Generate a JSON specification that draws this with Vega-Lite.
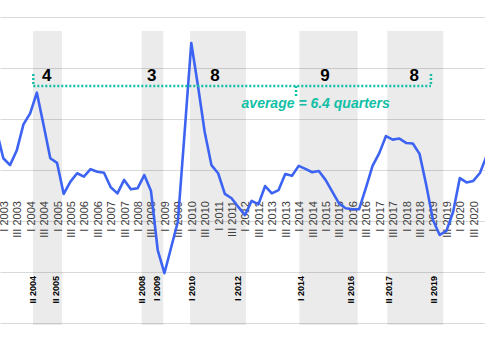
{
  "$schema": "https://vega.github.io/schema/vega-lite/v6.json",
  "width": 485,
  "height": 360,
  "padding": 0,
  "autosize": {"type": "none"},
  "background": "white",
  "config": {
    "view": {"stroke": null},
    "font": "Liberation Sans",
    "axisX": {"labels": false, "ticks": false, "domain": false, "grid": false},
    "axisY": {"grid": true, "gridColor": "#d9d9d9", "gridWidth": 1.2, "labels": false, "ticks": false, "domain": false}
  },
  "datasets": {
    "series": [
      {"q": -1, "v": 2.52}, {"q": 0, "v": 1.45}, {"q": 1, "v": 1.18}, {"q": 2, "v": 1.75}, {"q": 3, "v": 2.78},
      {"q": 4, "v": 3.21}, {"q": 5, "v": 4.02}, {"q": 6, "v": 2.75}, {"q": 7, "v": 1.45}, {"q": 8, "v": 1.27},
      {"q": 9, "v": 0.05}, {"q": 10, "v": 0.53}, {"q": 11, "v": 0.86}, {"q": 12, "v": 0.73}, {"q": 13, "v": 1.02},
      {"q": 14, "v": 0.92}, {"q": 15, "v": 0.88}, {"q": 16, "v": 0.31}, {"q": 17, "v": 0.07}, {"q": 18, "v": 0.6},
      {"q": 19, "v": 0.23}, {"q": 20, "v": 0.27}, {"q": 21, "v": 0.79}, {"q": 22, "v": 0.16}, {"q": 23, "v": -2.15},
      {"q": 24, "v": -3.06}, {"q": 25, "v": -2.05}, {"q": 26, "v": -1.04}, {"q": 27, "v": 2.44}, {"q": 28, "v": 5.97},
      {"q": 29, "v": 4.28}, {"q": 30, "v": 2.48}, {"q": 31, "v": 1.18}, {"q": 32, "v": 0.86}, {"q": 33, "v": 0.05},
      {"q": 34, "v": -0.12}, {"q": 35, "v": -0.46}, {"q": 36, "v": -0.78}, {"q": 37, "v": -0.22}, {"q": 38, "v": -0.36},
      {"q": 39, "v": 0.36}, {"q": 40, "v": 0.07}, {"q": 41, "v": 0.2}, {"q": 42, "v": 0.83}, {"q": 43, "v": 0.76},
      {"q": 44, "v": 1.15}, {"q": 45, "v": 1.03}, {"q": 46, "v": 0.9}, {"q": 47, "v": 0.95}, {"q": 48, "v": 0.6},
      {"q": 49, "v": 0.14}, {"q": 50, "v": -0.32}, {"q": 51, "v": -0.51}, {"q": 52, "v": -0.55}, {"q": 53, "v": -0.55},
      {"q": 54, "v": 0.28}, {"q": 55, "v": 1.15}, {"q": 56, "v": 1.65}, {"q": 57, "v": 2.32}, {"q": 58, "v": 2.18},
      {"q": 59, "v": 2.22}, {"q": 60, "v": 2.05}, {"q": 61, "v": 2.03}, {"q": 62, "v": 1.62}, {"q": 63, "v": 0.4},
      {"q": 64, "v": -0.97}, {"q": 65, "v": -1.56}, {"q": 66, "v": -1.4}, {"q": 67, "v": -0.66}, {"q": 68, "v": 0.67},
      {"q": 69, "v": 0.5}, {"q": 70, "v": 0.56}, {"q": 71, "v": 0.87}, {"q": 72, "v": 1.55}
    ],
    "quarters": [
      {"q": 0, "label": "I 2003"}, {"q": 2, "label": "III 2003"}, {"q": 4, "label": "I 2004"}, {"q": 6, "label": "III 2004"},
      {"q": 8, "label": "I 2005"}, {"q": 10, "label": "III 2005"}, {"q": 12, "label": "I 2006"}, {"q": 14, "label": "III 2006"},
      {"q": 16, "label": "I 2007"}, {"q": 18, "label": "III 2007"}, {"q": 20, "label": "I 2008"}, {"q": 22, "label": "III 2008"},
      {"q": 24, "label": "I 2009"}, {"q": 26, "label": "III 2009"}, {"q": 28, "label": "I 2010"}, {"q": 30, "label": "III 2010"},
      {"q": 32, "label": "I 2011"}, {"q": 34, "label": "III 2011"}, {"q": 36, "label": "I 2012"}, {"q": 38, "label": "III 2012"},
      {"q": 40, "label": "I 2013"}, {"q": 42, "label": "III 2013"}, {"q": 44, "label": "I 2014"}, {"q": 46, "label": "III 2014"},
      {"q": 48, "label": "I 2015"}, {"q": 50, "label": "III 2015"}, {"q": 52, "label": "I 2016"}, {"q": 54, "label": "III 2016"},
      {"q": 56, "label": "I 2017"}, {"q": 58, "label": "III 2017"}, {"q": 60, "label": "I 2018"}, {"q": 62, "label": "III 2018"},
      {"q": 64, "label": "I 2019"}, {"q": 66, "label": "III 2019"}, {"q": 68, "label": "I 2020"}, {"q": 70, "label": "III 2020"}
    ],
    "bands": [
      {"start": 4.42, "end": 8.74, "mid": 6.46, "n": "4"},
      {"start": 20.61, "end": 23.83, "mid": 22.1, "n": "3"},
      {"start": 27.81, "end": 36.15, "mid": 31.53, "n": "8"},
      {"start": 44.09, "end": 52.79, "mid": 47.9, "n": "9"},
      {"start": 57.19, "end": 65.53, "mid": 61.2, "n": "8"}
    ],
    "edges": [
      {"q": 4.47, "label": "II 2004"}, {"q": 7.8, "label": "II 2005"},
      {"q": 20.7, "label": "II 2008"}, {"q": 22.85, "label": "I 2009"},
      {"q": 28.06, "label": "I 2010"}, {"q": 35.0, "label": "I 2012"},
      {"q": 44.3, "label": "I 2014"}, {"q": 51.79, "label": "II 2016"},
      {"q": 57.45, "label": "II 2017"}, {"q": 64.15, "label": "II 2019"}
    ],
    "bracket": [
      {"xa": 4.47, "ya": 4.28, "xb": 63.7, "yb": 4.28},
      {"xa": 4.47, "ya": 4.75, "xb": 4.47, "yb": 4.28},
      {"xa": 63.7, "ya": 4.75, "xb": 63.7, "yb": 4.28},
      {"xa": 43.6, "ya": 4.28, "xb": 43.6, "yb": 3.82}
    ],
    "note": [{"q": 46.53, "v": 3.57, "text": "average = 6.4 quarters"}]
  },
  "layer": [
    {
      "data": {"name": "bands"},
      "mark": {"type": "rect", "fill": "#000000", "opacity": 0.08},
      "encoding": {
        "x": {"field": "start", "type": "quantitative", "title": null, "scale": {"domain": [-0.4915, 71.75], "nice": false, "zero": false},
          "axis": {"labels": false, "ticks": false, "domain": false, "grid": false}},
        "x2": {"field": "end"},
        "y": {"datum": 6.44, "type": "quantitative", "title": null, "scale": {"domain": [-6.463, 7.655], "nice": false, "zero": false},
          "axis": {"values": [-5,-4,-3,-2,-1,0,1,2,3,4,5,6,7], "grid": true, "gridColor": "#d9d9d9", "gridWidth": 1.2, "labels": false, "ticks": false, "domain": false}},
        "y2": {"datum": -5.09}
      }
    },
    {
      "data": {"name": "quarters"},
      "mark": {"type": "text", "angle": 270, "align": "right", "baseline": "middle", "dy": 1.5, "fontSize": 11, "color": "#404040", "font": "Liberation Sans"},
      "encoding": {
        "x": {"field": "q", "type": "quantitative", "title": null},
        "y": {"datum": -0.23, "type": "quantitative", "title": null},
        "text": {"field": "label"}
      }
    },
    {
      "data": {"name": "series"},
      "mark": {"type": "line", "color": "#3d63f2", "strokeWidth": 2.6, "clip": true, "strokeJoin": "round"},
      "encoding": {
        "x": {"field": "q", "type": "quantitative", "title": null},
        "y": {"field": "v", "type": "quantitative", "title": null}
      }
    },
    {
      "data": {"name": "edges"},
      "mark": {"type": "text", "angle": 270, "align": "right", "baseline": "middle", "fontSize": 9, "fontWeight": "bold", "color": "#000000", "font": "Liberation Sans"},
      "encoding": {
        "x": {"field": "q", "type": "quantitative", "title": null},
        "y": {"datum": -3.17, "type": "quantitative", "title": null},
        "text": {"field": "label"}
      }
    },
    {
      "data": {"name": "bracket"},
      "mark": {"type": "rule", "color": "#12bfa6", "strokeWidth": 2.5, "strokeDash": [2, 2], "strokeCap": "butt"},
      "encoding": {
        "x": {"field": "xa", "type": "quantitative", "title": null},
        "y": {"field": "ya", "type": "quantitative", "title": null},
        "x2": {"field": "xb"},
        "y2": {"field": "yb"}
      }
    },
    {
      "data": {"name": "bands"},
      "mark": {"type": "text", "align": "center", "baseline": "middle", "fontSize": 17, "fontWeight": "bold", "color": "#000000", "font": "Liberation Sans"},
      "encoding": {
        "x": {"field": "mid", "type": "quantitative", "title": null},
        "y": {"datum": 4.66, "type": "quantitative", "title": null},
        "text": {"field": "n"}
      }
    },
    {
      "data": {"name": "note"},
      "mark": {"type": "text", "align": "center", "baseline": "middle", "fontSize": 14, "fontWeight": "bold", "fontStyle": "italic", "color": "#12bfa6", "font": "Liberation Sans"},
      "encoding": {
        "x": {"field": "q", "type": "quantitative", "title": null},
        "y": {"field": "v", "type": "quantitative", "title": null},
        "text": {"field": "text"}
      }
    }
  ]
}
